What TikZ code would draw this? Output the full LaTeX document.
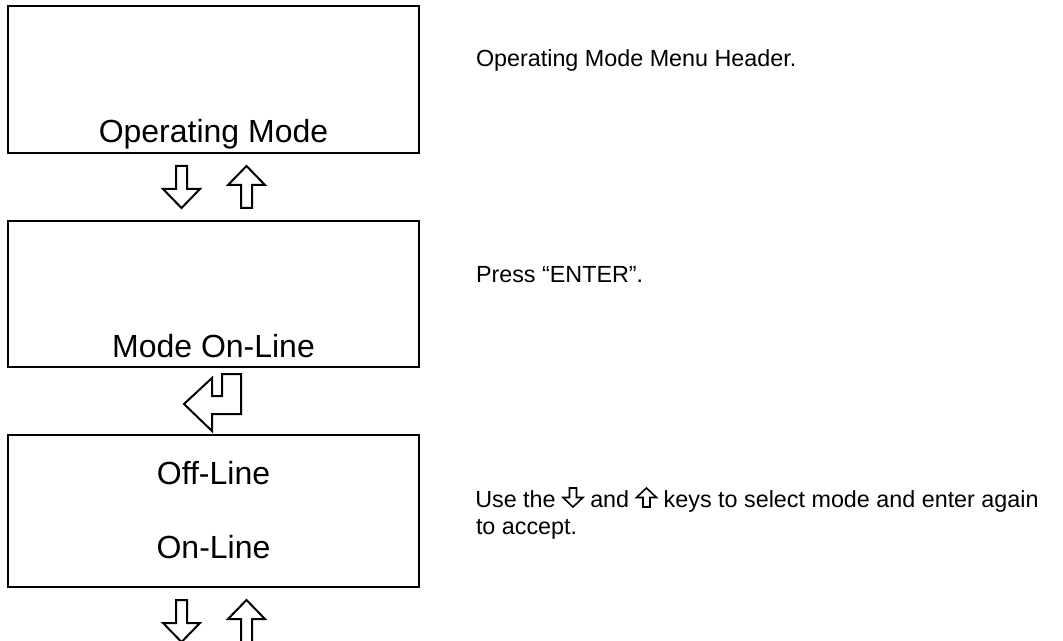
\documentclass[tikz,border=0pt]{standalone}
\usepackage{fontspec}
\setmainfont{Liberation Sans}
\usetikzlibrary{calc}
\usetikzlibrary{positioning}

% small key arrows inside the notes
\newcommand\dnglyph{\tikz[baseline=0pt, x=0.75pt, y=0.75pt, line width=1.2pt, line join=miter]
  \draw (-3.5,19) -- (3.5,19) -- (3.5,9.5) -- (10,9.5) -- (0,0) -- (-10,9.5) -- (-3.5,9.5) -- cycle;}
\newcommand\upglyph{\tikz[baseline=0pt, x=0.75pt, y=0.75pt, line width=1.2pt, line join=miter]
  \draw (0,19) -- (10,9.5) -- (3.5,9.5) -- (3.5,0) -- (-3.5,0) -- (-3.5,9.5) -- (-10,9.5) -- cycle;}

\begin{document}
\begin{tikzpicture}[x=0.75pt, y=-0.75pt, line width=1.5pt,
  screen/.style={draw, minimum width=308.25pt, inner sep=0pt},
  lcd/.style={anchor=base, inner sep=0pt, font=\fontsize{24}{28}\selectfont},
  note/.style={anchor=base west, inner sep=0pt, font=\fontsize{17.5}{21}\selectfont},
  keyline/.style={draw, line width=1.5pt, line join=miter},
  downkey/.pic={\path[keyline] (-5.5,0) -- (5.5,0) -- (5.5,23) -- (18.5,23)
      -- (0,42) -- (-18.5,23) -- (-5.5,23) -- cycle;},
  upkey/.pic={\path[keyline] (0,0) -- (18.5,19) -- (5.5,19) -- (5.5,42)
      -- (-5.5,42) -- (-5.5,19) -- (-18.5,19) -- cycle;},
  enterkey/.pic={\path[keyline] (-29.5,36) -- (-1.5,10) -- (-1.5,28) -- (8.5,28)
      -- (8.5,6) -- (27.5,6) -- (27.5,46) -- (-1.5,46) -- (-1.5,63) -- cycle;}]
\useasboundingbox (0,0) rectangle (1063,641);

% menu screens
\foreach \name/\cy/\h in {hdr/79.5/147, sel/294/146, opt/511/152}
  \node[screen, minimum height=\h*0.75pt] (\name) at (213.5,\cy) {};

\node[lcd] (hdrtxt) at (213.5,143) {Operating Mode};
\node[lcd] (seltxt) at (213.5,358) {Mode On-Line};
\node[lcd] (off) at (213.5,484) {Off-Line};
\node[lcd] (on) at (213.5,558) {On-Line};

% keys between screens
\foreach \scr in {hdr, opt} {
  \pic at ($(\scr.south)+(-32,12)$) {downkey};
  \pic at ($(\scr.south)+(33,12)$) {upkey};
}
\pic at (sel.south) {enterkey};

% notes
\node[note] (n1) at (475,67) {Operating Mode Menu Header.};
\node[note] (n2) at (475,283) {Press “ENTER”.};
\node[note] (n3) at (475,507) {Use the \dnglyph{} and \upglyph{} keys to select mode and enter again};
\node[note] (n4) at (475,534) {to accept.};
\end{tikzpicture}
\end{document}
